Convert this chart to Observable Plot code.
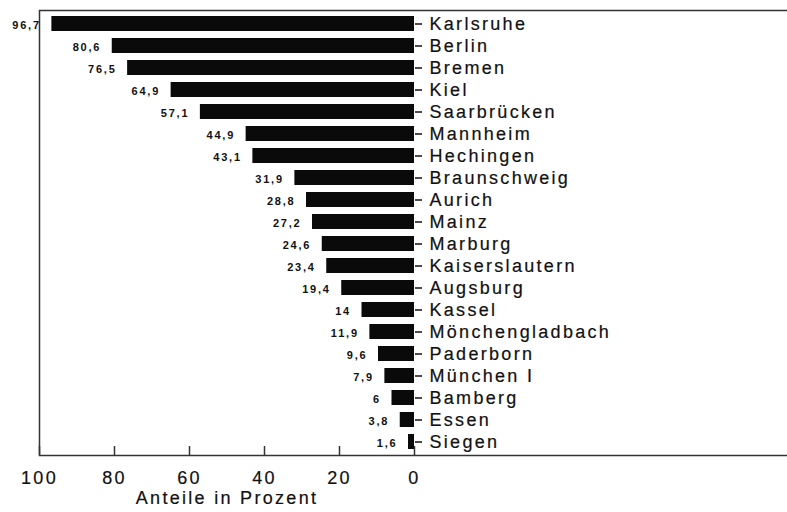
<!DOCTYPE html>
<html>
<head>
<meta charset="utf-8">
<script src="https://cdn.jsdelivr.net/npm/d3@7"></script>
<script src="https://cdn.jsdelivr.net/npm/@observablehq/plot@0.6"></script>
<style>
  html, body { margin: 0; padding: 0; background: #fff; }
  svg text { letter-spacing: 2.3px; }
  svg .vals text { letter-spacing: 1.8px; }
  svg .ylab text, svg .xlab text, svg .xt text { stroke: #111; stroke-width: 0.2px; }
</style>
</head>
<body>
<div id="chart"></div>
<script>
const cities = ["Karlsruhe","Berlin","Bremen","Kiel","Saarbrücken","Mannheim","Hechingen","Braunschweig","Aurich","Mainz","Marburg","Kaiserslautern","Augsburg","Kassel","Mönchengladbach","Paderborn","München I","Bamberg","Essen","Siegen"];
const values = [96.7,80.6,76.5,64.9,57.1,44.9,43.1,31.9,28.8,27.2,24.6,23.4,19.4,14,11.9,9.6,7.9,6,3.8,1.6];
const xTicks = [0,20,40,60,80,100];
const xLabel = "Anteile in Prozent";

const data = cities.map((c, i) => ({city: c, value: values[i]}));
const fmt = v => String(v).replace(".", ",");

const chart = Plot.plot({
  width: 787,
  height: 512,
  marginLeft: 39,
  marginRight: 373,
  marginTop: 10,
  marginBottom: 57,
  style: {fontFamily: "'Liberation Sans', Arial, sans-serif", fontSize: "18px", color: "#111", background: "#fff"},
  x: {domain: [0, 100], reverse: true},
  y: {domain: cities, paddingInner: 0.3, paddingOuter: 0.15},
  marks: [
    Plot.barX(data, {x: "value", y: "city", fill: "#0a0a0a"}),
    Plot.text(data, {x: "value", y: "city", text: d => fmt(d.value), textAnchor: "end", dx: -11, dy: 1, fontSize: 11, fontWeight: "bold", fill: "#111", className: "vals"}),
    Plot.frame({stroke: "#333", strokeWidth: 1.5, insetRight: -400}),
    Plot.tickX(xTicks, {x: d => d, insetTop: 436, stroke: "#333", strokeWidth: 1.5}),
    Plot.axisY({anchor: "right", tickSize: 7, tickPadding: 8, strokeWidth: 1.5, fontSize: 18, label: null, className: "ylab"}),
    Plot.axisX({anchor: "bottom", ticks: xTicks, tickSize: 0, tickPadding: 16, fontSize: 18, label: null, className: "xt"}),
    Plot.text([xLabel], {frameAnchor: "bottom", dy: 48.5, fontSize: 18, fill: "#111", className: "xlab"})
  ]
});
document.getElementById("chart").appendChild(chart);
</script>
</body>
</html>
